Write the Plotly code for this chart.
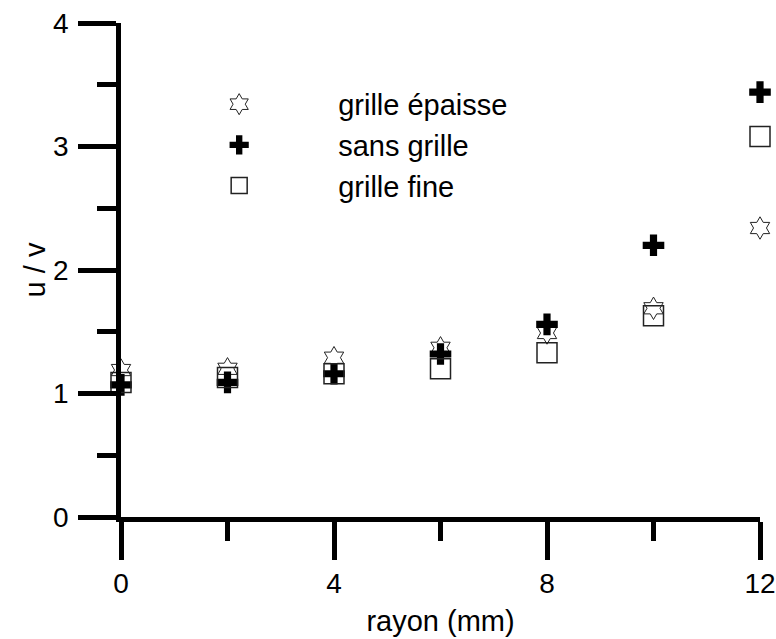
import plotly.graph_objects as go

rayon = [0, 2, 4, 6, 8, 10, 12]
grille_epaisse = [1.19, 1.20, 1.29, 1.37, 1.49, 1.69, 2.34]
sans_grille = [1.07, 1.09, 1.16, 1.32, 1.56, 2.20, 3.44]
grille_fine = [1.09, 1.13, 1.16, 1.20, 1.33, 1.63, 3.08]

FONT = "Liberation Sans, Arial, sans-serif"

fig = go.Figure()
fig.add_trace(go.Scatter(
    x=rayon, y=grille_epaisse, mode="markers", name="grille épaisse",
    legendgroup="a",
    marker=dict(symbol="hexagram-open", size=17, color="#222",
                line=dict(width=1, color="#222")),
    cliponaxis=False))
fig.add_trace(go.Scatter(
    x=rayon, y=sans_grille, mode="markers", name="sans grille",
    legendgroup="b",
    marker=dict(symbol="cross", size=18, color="black", line=dict(width=0)),
    cliponaxis=False))
fig.add_trace(go.Scatter(
    x=rayon, y=grille_fine, mode="markers", name="grille fine",
    legendgroup="c",
    marker=dict(symbol="square-open", size=20, color="#222",
                line=dict(width=1.5, color="#222")),
    cliponaxis=False))

axis_common = dict(
    showgrid=False, zeroline=False, showline=True, linecolor="black",
    linewidth=4.5, ticks="outside", tickwidth=4.5, tickcolor="black",
    ticklen=38, tickfont=dict(family=FONT, size=28, color="black"),
    automargin=False, ticklabeloverflow="allow",
)

fig.update_layout(
    width=776, height=639,
    margin=dict(l=121, r=16, t=23, b=122),
    paper_bgcolor="white", plot_bgcolor="white",
    font=dict(family=FONT, size=28, color="black"),
    showlegend=True,
    legend=dict(x=0.03, y=0.887, xanchor="left", yanchor="top",
                bgcolor="rgba(0,0,0,0)", borderwidth=0,
                font=dict(family=FONT, size=29, color="black"),
                itemwidth=188, tracegroupgap=0),
    xaxis=dict(range=[0, 12], tickvals=[0, 4, 8, 12],
               minor=dict(tickvals=[2, 6, 10], ticklen=19, tickwidth=4.5,
                          tickcolor="black", ticks="outside", showgrid=False),
               title=dict(text="rayon (mm)", standoff=14,
                          font=dict(family=FONT, size=29)),
               ticklabelstandoff=0,
               **axis_common),
    yaxis=dict(range=[0, 4], tickvals=[0, 1, 2, 3, 4],
               minor=dict(tickvals=[0.5, 1.5, 2.5, 3.5], ticklen=19, tickwidth=4.5,
                          tickcolor="black", ticks="outside", showgrid=False),
               title=dict(text="u / v", standoff=0,
                          font=dict(family=FONT, size=29)),
               ticklabelstandoff=4,
               **axis_common),
)

# remove the browser's default body margin so the figure fills the window
fig.write_html("out.html",
               config={"displayModeBar": False},
               post_script="document.body.style.margin='0px';document.body.style.overflow='hidden';")
